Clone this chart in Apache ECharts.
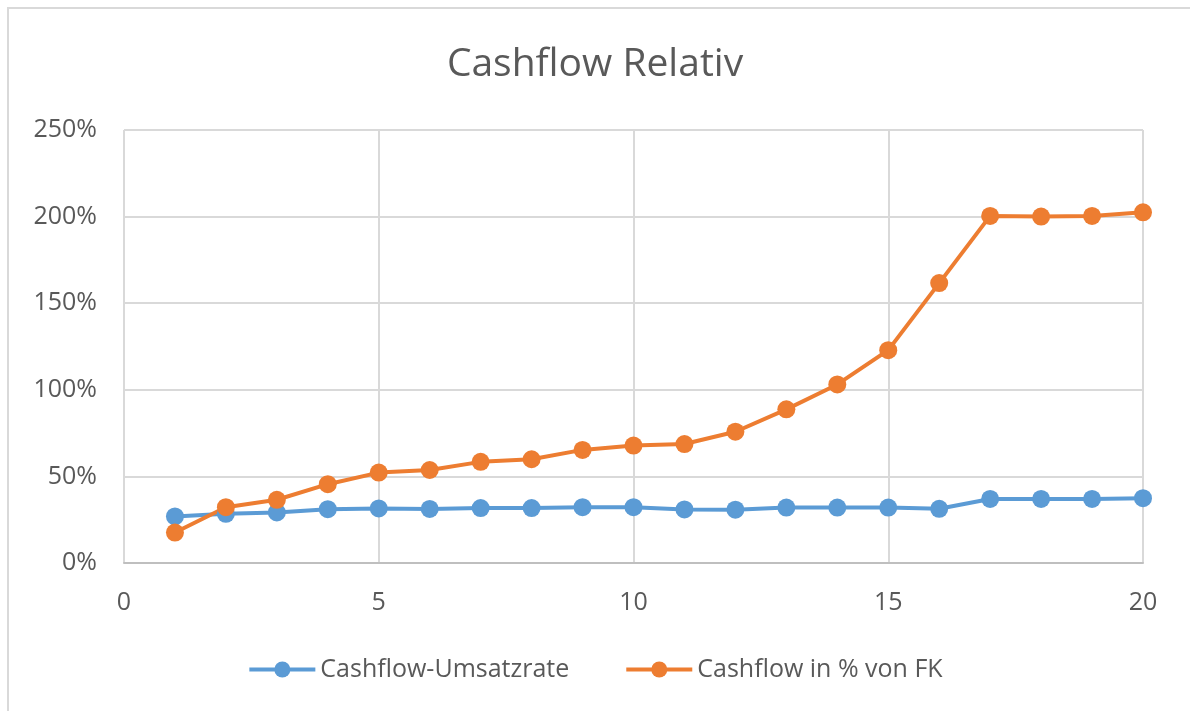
<!DOCTYPE html>
<html>
<head>
<meta charset="utf-8">
<title>Cashflow Relativ</title>
<script src="https://cdn.jsdelivr.net/npm/echarts@6/dist/echarts.min.js"></script>
<style>
  html, body { margin: 0; padding: 0; background: #fff; }
  #chart { width: 1190px; height: 711px; }
</style>
</head>
<body>
<div id="chart"></div>
<script>
// Jahre 1..20
const years = [1, 2, 3, 4, 5, 6, 7, 8, 9, 10, 11, 12, 13, 14, 15, 16, 17, 18, 19, 20];
// Werte in Prozent
const umsatzrate = [26.9, 28.4, 29.2, 31.1, 31.5, 31.2, 31.7, 31.7, 32.2, 32.2,
                    30.9, 30.8, 32.0, 32.0, 32.0, 31.3, 37.0, 37.0, 37.0, 37.4];
const inProzentFK = [17.6, 32.2, 36.5, 45.5, 52.2, 53.7, 58.4, 59.9, 65.3, 67.8,
                     68.7, 75.8, 88.7, 103.1, 122.9, 161.6, 200.4, 200.0, 200.4, 202.5];
const seriesNames = ['Cashflow-Umsatzrate', 'Cashflow in % von FK'];

const textColor = '#595959';
const fontFamily = '"Open Sans", "Noto Sans", sans-serif';

const toPairs = (vals) => years.map((x, i) => [x, vals[i]]);

const lineSeries = (name, vals, color) => ({
  name: name,
  type: 'line',
  data: toPairs(vals),
  symbol: 'circle',
  symbolSize: 18,
  lineStyle: { color: color, width: 4 },
  itemStyle: { color: color },
  emphasis: { disabled: true },
  z: 3
});

const chart = echarts.init(document.getElementById('chart'));
chart.setOption({
  animation: false,
  backgroundColor: '#fff',
  textStyle: { fontFamily: fontFamily },
  graphic: [{
    // Rahmen des Diagrammbereichs
    type: 'rect',
    shape: { x: 8, y: 8, width: 1400, height: 1000 },
    style: { fill: 'none', stroke: '#d9d9d9', lineWidth: 2 },
    silent: true
  }],
  title: {
    text: 'Cashflow Relativ',
    left: 'center',
    top: 40,
    textStyle: { color: textColor, fontSize: 39, fontWeight: 'normal', fontFamily: fontFamily }
  },
  legend: {
    top: 652,
    left: 'center',
    itemWidth: 66,
    itemHeight: 20,
    itemGap: 55,
    lineStyle: { width: 4 },
    textStyle: { color: textColor, fontSize: 25, fontFamily: fontFamily },
    data: seriesNames
  },
  grid: { left: 124, right: 47, top: 130, bottom: 148 },
  xAxis: {
    type: 'value',
    min: 0,
    max: 20,
    interval: 5,
    axisLine: { show: true, lineStyle: { color: '#bfbfbf', width: 2 } },
    axisTick: { show: false },
    axisLabel: { color: textColor, fontSize: 25, margin: 27, fontFamily: fontFamily },
    splitLine: { show: true, lineStyle: { color: '#d9d9d9', width: 2 } }
  },
  yAxis: {
    type: 'value',
    min: 0,
    max: 250,
    interval: 50,
    axisLine: { show: false },
    axisTick: { show: false },
    axisLabel: { color: textColor, fontSize: 25, margin: 27, formatter: '{value}%', fontFamily: fontFamily },
    splitLine: { show: true, lineStyle: { color: '#d9d9d9', width: 2 } }
  },
  series: [
    lineSeries(seriesNames[0], umsatzrate, '#5b9bd5'),
    lineSeries(seriesNames[1], inProzentFK, '#ed7d31')
  ]
});
</script>
</body>
</html>
